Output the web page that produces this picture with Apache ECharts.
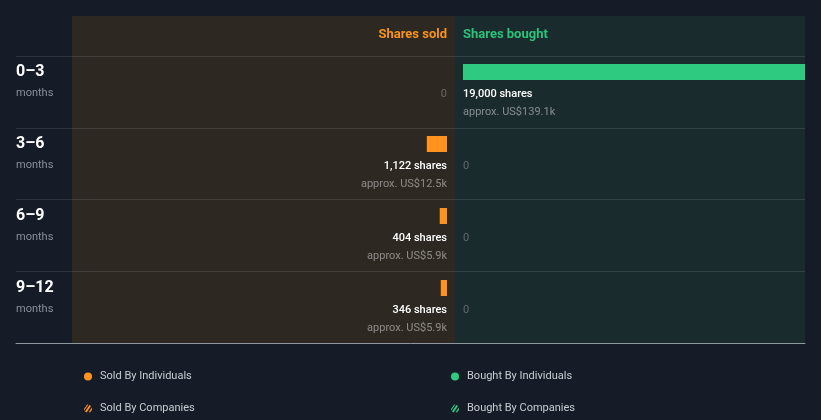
<!DOCTYPE html>
<html><head><meta charset="utf-8">
<script src="https://cdn.jsdelivr.net/npm/echarts@6/dist/echarts.min.js"></script>
<style>html,body{margin:0;padding:0;background:#151c27;}#c{width:821px;height:420px;}</style>
</head><body><div id="c"></div>
<script>
const periods = ['0–3', '3–6', '6–9', '9–12'];
const soldShares = [0, 1122, 404, 346];
const boughtShares = [19000, 0, 0, 0];
const soldValue = ['', 'US$12.5k', 'US$5.9k', 'US$5.9k'];
const boughtValue = ['US$139.1k', '', '', ''];
const axisMax = 19000;
const legendLeft = ['Sold By Individuals', 'Sold By Companies'];
const legendRight = ['Bought By Individuals', 'Bought By Companies'];

const ORANGE = '#ff931e';
const GREEN = '#2dca80';
const FONT = 'Roboto, "Noto Sans", sans-serif';

function makeRender(values, color, side) {
  return function (params, api) {
    const v = api.value(0);
    const i = api.value(1);
    const start = api.coord([0, i]);
    const end = api.coord([v, i]);
    const cy = start[1];
    const children = [];
    if (v > 0) {
      children.push({
        type: 'rect',
        shape: { x: Math.min(start[0], end[0]), y: cy - 28, width: Math.abs(end[0] - start[0]), height: 16 },
        style: { fill: color }
      });
      children.push({
        type: 'text', x: start[0], y: cy + 2.5,
        style: { text: v.toLocaleString('en-US') + ' shares', fill: '#ffffff', font: '500 11px ' + FONT, align: side, verticalAlign: 'middle' }
      });
      children.push({
        type: 'text', x: start[0], y: cy + 20.5,
        style: { text: 'approx. ' + values[i], fill: 'rgba(255,255,255,0.45)', font: '11px ' + FONT, align: side, verticalAlign: 'middle' }
      });
    } else {
      children.push({
        type: 'text', x: start[0], y: cy + 2.5,
        style: { text: '0', fill: 'rgba(255,255,255,0.28)', font: '11px ' + FONT, align: side, verticalAlign: 'middle' }
      });
    }
    return { type: 'group', children: children };
  };
}

const hatch = 'path://M1,7 L5.5,0.6 L7,1.6 L2.6,8 Z M4.6,7.8 L7.9,3 L8,5.2 L6.2,7.8 Z M0,4.6 L3.2,0 L4.4,0.1 L0.1,6.2 Z';

const chart = echarts.init(document.getElementById('c'), null, { renderer: 'canvas' });
chart.setOption({
  backgroundColor: '#151c27',
  animation: false,
  textStyle: { fontFamily: FONT },
  graphic: [
    { type: 'rect', z: -10, shape: { x: 72, y: 16, width: 383, height: 327 }, style: { fill: '#2d2822' } },
    { type: 'rect', z: -10, shape: { x: 455, y: 16, width: 350, height: 327 }, style: { fill: '#1a2b2e' } },
    { type: 'text', x: 447, y: 35, style: { text: 'Shares sold', fill: '#f7941d', font: 'bold 13px ' + FONT, align: 'right', verticalAlign: 'middle' } },
    { type: 'text', x: 463, y: 35, style: { text: 'Shares bought', fill: '#2cc27b', font: 'bold 13px ' + FONT, align: 'left', verticalAlign: 'middle' } }
  ],
  grid: [
    { left: 105, right: 374, top: 56, height: 288 },
    { left: 463, right: 16, top: 56, height: 288 },
    { left: 16, right: 16, top: 56, height: 287 }
  ],
  xAxis: [
    { gridIndex: 0, type: 'value', min: 0, max: axisMax, inverse: true, show: false },
    { gridIndex: 1, type: 'value', min: 0, max: axisMax, show: false },
    { gridIndex: 2, type: 'value', min: 0, max: 1, z: 5,
      axisLine: { show: true, onZero: false, lineStyle: { color: '#8d989c', width: 1 } },
      axisTick: { show: false }, axisLabel: { show: false }, splitLine: { show: false } }
  ],
  yAxis: [
    { gridIndex: 0, type: 'category', data: periods, inverse: true,
      axisLine: { show: false }, axisTick: { show: false }, splitLine: { show: false },
      axisLabel: {
        show: true, align: 'left', margin: 89,
        formatter: function (v) { return '{a|' + v + '}\n{b|months}\n{c| }'; },
        rich: {
          a: { fontSize: 16, fontWeight: 'bold', color: '#ffffff', lineHeight: 22, fontFamily: FONT },
          b: { fontSize: 11, color: '#8a9098', lineHeight: 22, fontFamily: FONT },
          c: { fontSize: 11, lineHeight: 19 }
        }
      } },
    { gridIndex: 1, type: 'category', data: periods, inverse: true, show: false },
    { gridIndex: 2, type: 'category', data: periods, inverse: true,
      axisLine: { show: false }, axisTick: { show: false }, axisLabel: { show: false },
      splitLine: { show: true, lineStyle: { color: 'rgba(255,255,255,0.11)', width: 1 } } }
  ],
  legend: [
    { data: legendLeft.map((n, k) => ({ name: n, icon: k === 0 ? 'circle' : hatch })),
      orient: 'vertical', left: 84, top: 371, padding: 0, itemWidth: 8, itemHeight: 8, itemGap: 21,
      textStyle: { color: '#c9cdd2', fontSize: 11, fontFamily: FONT, padding: [0, 0, 0, 3] }, selectedMode: false },
    { data: legendRight.map((n, k) => ({ name: n, icon: k === 0 ? 'circle' : hatch })),
      orient: 'vertical', left: 451, top: 371, padding: 0, itemWidth: 8, itemHeight: 8, itemGap: 21,
      textStyle: { color: '#c9cdd2', fontSize: 11, fontFamily: FONT, padding: [0, 0, 0, 3] }, selectedMode: false }
  ],
  series: [
    { type: 'custom', name: legendLeft[0], xAxisIndex: 0, yAxisIndex: 0, itemStyle: { color: ORANGE },
      data: soldShares.map((v, i) => [v, i]), encode: { x: 0, y: 1 },
      renderItem: makeRender(soldValue, ORANGE, 'right') },
    { type: 'custom', name: legendRight[0], xAxisIndex: 1, yAxisIndex: 1, itemStyle: { color: GREEN },
      data: boughtShares.map((v, i) => [v, i]), encode: { x: 0, y: 1 },
      renderItem: makeRender(boughtValue, GREEN, 'left') },
    { type: 'custom', name: legendLeft[1], xAxisIndex: 0, yAxisIndex: 0, itemStyle: { color: ORANGE },
      data: [], renderItem: function () { return null; } },
    { type: 'custom', name: legendRight[1], xAxisIndex: 1, yAxisIndex: 1, itemStyle: { color: GREEN },
      data: [], renderItem: function () { return null; } }
  ]
});
</script>
</body></html>
